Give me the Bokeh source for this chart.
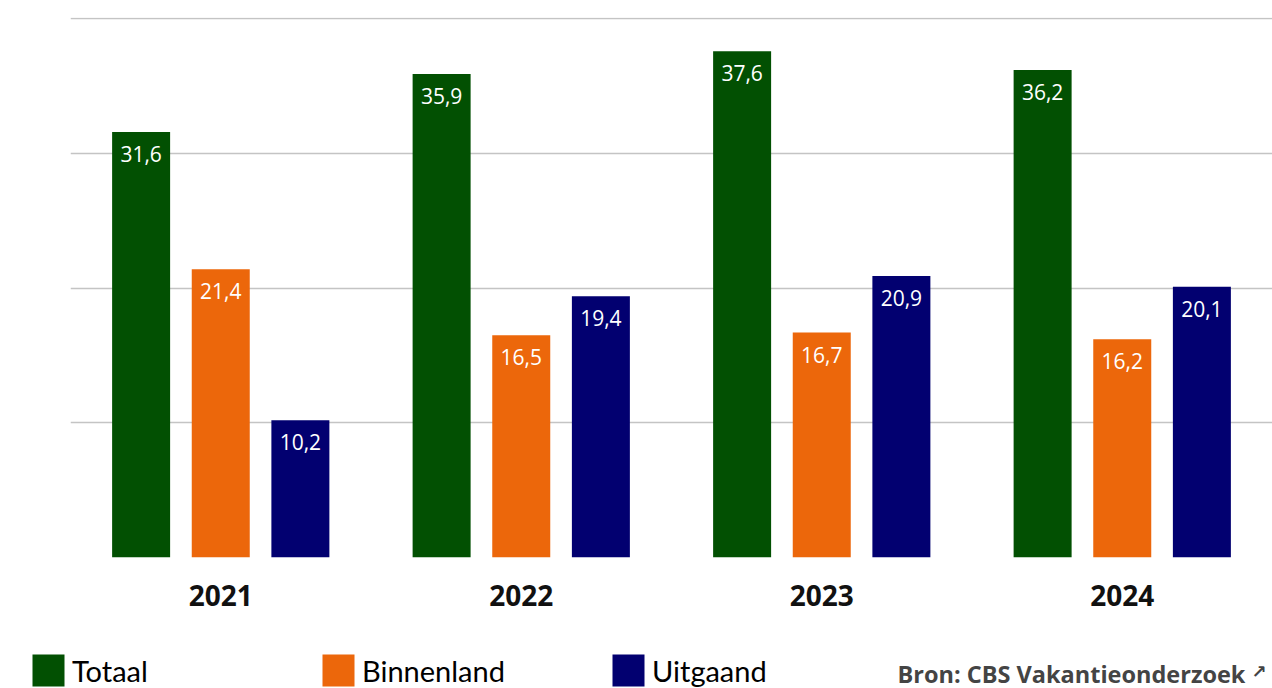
from bokeh.plotting import figure
from bokeh.layouts import column
from bokeh.models import ColumnDataSource, FactorRange, Range1d, Legend, LegendItem, Label
from bokeh.core.properties import value
from bokeh.transform import dodge
from bokeh.embed import file_html
from bokeh.resources import INLINE

years = ["2021", "2022", "2023", "2024"]
totaal = [31.6, 35.9, 37.6, 36.2]
binnenland = [21.4, 16.5, 16.7, 16.2]
uitgaand = [10.2, 19.4, 20.9, 20.1]
series_names = ["Totaal", "Binnenland", "Uitgaand"]
colors = ["#025002", "#EC670B", "#020070"]
source_text = "Bron: CBS Vakantieonderzoek"
source_arrow = "\u2197"

def fmt(v):
    return f"{v:.1f}".replace(".", ",")

src = ColumnDataSource(dict(
    years=years, totaal=totaal, binnenland=binnenland, uitgaand=uitgaand,
    l_totaal=[fmt(v) for v in totaal],
    l_binnenland=[fmt(v) for v in binnenland],
    l_uitgaand=[fmt(v) for v in uitgaand],
))

# ---- main chart ----
p = figure(width=1272, height=640, x_range=FactorRange(*years), y_range=Range1d(0, 40.1),
           output_backend="svg", toolbar_location=None,
           min_border_left=70, min_border_right=0, min_border_top=17, min_border_bottom=83)
p.outline_line_color = None
p.background_fill_color = "white"
p.border_fill_color = "white"
p.yaxis.visible = False
p.xgrid.grid_line_color = None
p.ygrid.ticker = [0, 10, 20, 30, 40]
p.ygrid.grid_line_color = "#c4c4c4"
p.ygrid.grid_line_width = 1.5

p.xaxis.axis_line_color = None
p.xaxis.major_tick_line_color = None
p.xaxis.minor_tick_line_color = None
p.xaxis.major_label_text_font = "Open Sans"
p.xaxis.major_label_text_font_style = "bold"
p.xaxis.major_label_text_font_size = "28px"
p.xaxis.major_label_text_color = "#111111"
p.xaxis.major_label_standoff = 21

offsets = [-0.265, 0.0, 0.265]
cols = ["totaal", "binnenland", "uitgaand"]
for off, col, c in zip(offsets, cols, colors):
    p.vbar(x=dodge("years", off, range=p.x_range), top=col, width=0.193, source=src,
           fill_color=c, line_color=None)
    p.text(x=dodge("years", off, range=p.x_range), y=col, text="l_" + col, source=src,
           text_color="white", text_font=value("Open Sans"), text_font_style="normal",
           text_font_size="21px", text_align="center", text_baseline="top", y_offset=14)

# ---- legend / source row ----
p2 = figure(width=1272, height=48, x_range=Range1d(0, 1272), y_range=Range1d(0, 48),
            x_axis_type=None, y_axis_type=None, output_backend="svg", toolbar_location=None,
            min_border_left=0, min_border_right=0, min_border_top=0, min_border_bottom=0)
if "frame_align" in p2.properties():
    p2.frame_align = False
    p.frame_align = False
p2.outline_line_color = None
p2.xgrid.visible = False
p2.ygrid.visible = False
# off-screen placeholder renderers, used only for the legend swatches
dummy = []
for c in colors:
    dummy.append(p2.vbar(x=[-1000], top=[-1000], width=1, fill_color=c, line_color=None))

legend = Legend(items=[LegendItem(label=n, renderers=[r]) for n, r in zip(series_names, dummy)],
                orientation="horizontal", location=(28, -2),
                glyph_width=40, glyph_height=40, label_height=32, label_width=246,
                label_standoff=4, spacing=0, padding=0, margin=0,
                border_line_color=None, background_fill_alpha=0,
                label_text_font="Lato", label_text_font_size="29px", label_text_color="#000000")
p2.add_layout(legend, "center")

p2.add_layout(Label(x=897, y=15, x_units="screen", y_units="screen", text=source_text,
                    text_font="Open Sans", text_font_style="bold", text_font_size="23.5px",
                    text_baseline="alphabetic", text_color="#444444"))
p2.add_layout(Label(x=1251, y=17, x_units="screen", y_units="screen", text=source_arrow,
                    text_font="DejaVu Sans", text_font_style="bold", text_font_size="18px",
                    text_baseline="alphabetic", text_color="#444444"))

layout = column(p, p2, spacing=0)
open("out.html", "w").write(file_html(layout, INLINE))
